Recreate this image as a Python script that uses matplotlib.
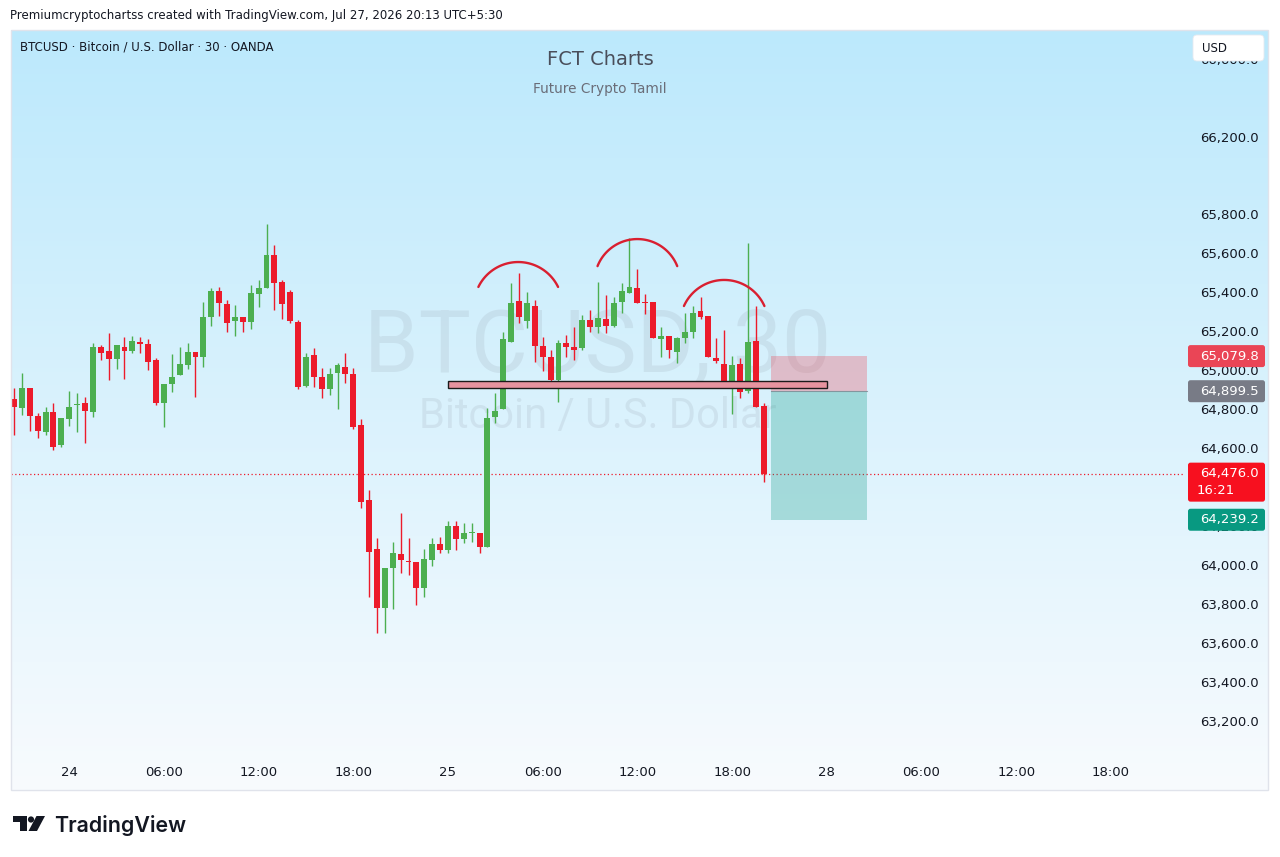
import math
import numpy as np
import matplotlib
matplotlib.use("Agg")
import matplotlib.pyplot as plt
from matplotlib.patches import Rectangle, FancyBboxPatch, Polygon, Circle

# ---------------- data ----------------
opens = [64859, 64813, 64916, 64772, 64690, 64793, 64623, 64757, 64828, 64839,
         64793, 65127, 65106, 65065, 65127, 65106, 65152, 65142, 65060, 64839,
         64936, 64983, 65034, 65101, 65075, 65281, 65414, 65347, 65260, 65281,
         65255, 65399, 65430, 65599, 65460, 65409, 65255, 64926, 65085, 64972,
         64911, 64993, 65024, 64988, 64726, 64340, 64089, 63786, 63991, 64063,
         64027, 64022, 63888, 64032, 64114, 64084, 64207, 64140, 64171, 64171,
         64099, 64767, 64808, 65152, 65363, 65260, 65337, 65132, 65075, 64957,
         65147, 65127, 65121, 65265, 65229, 65270, 65234, 65358, 65404, 65430,
         65358, 65358, 65168, 65183, 65101, 65173, 65204, 65311, 65286, 65070,
         65039, 64952, 65039, 64900, 65157, 64823]
highs = [64916, 64993, 64916, 64787, 64818, 64839, 64762, 64900, 64890, 64870,
         65147, 65137, 65199, 65137, 65178, 65183, 65178, 65168, 65070, 64936,
         65091, 65127, 65147, 65101, 65358, 65430, 65435, 65368, 65342, 65281,
         65445, 65471, 65758, 65650, 65471, 65420, 65265, 65096, 65121, 65018,
         65018, 65044, 65096, 65018, 64757, 64392, 64145, 63991, 64125, 64274,
         64145, 64022, 64089, 64145, 64150, 64233, 64233, 64222, 64222, 64171,
         64813, 64890, 65204, 65455, 65507, 65409, 65368, 65178, 65111, 65163,
         65188, 65229, 65291, 65316, 65460, 65394, 65383, 65455, 65686, 65527,
         65399, 65358, 65229, 65183, 65178, 65301, 65337, 65383, 65286, 65173,
         65214, 65080, 65070, 65661, 65337, 64839]
lows = [64674, 64777, 64695, 64659, 64674, 64597, 64613, 64721, 64690, 64633,
        64767, 65060, 64957, 65013, 64962, 65096, 65096, 65008, 64828, 64715,
        64895, 64983, 65013, 64870, 65024, 65234, 65286, 65204, 65183, 65204,
        65219, 65332, 65430, 65316, 65270, 65250, 64910, 64921, 64921, 64864,
        64880, 64808, 64941, 64705, 64299, 63842, 63657, 63657, 63781, 63965,
        63955, 63801, 63842, 64000, 64068, 64068, 64084, 64120, 64125, 64068,
        64099, 64736, 64808, 65152, 65250, 65224, 65049, 65003, 64947, 64844,
        65075, 65060, 65111, 65204, 65199, 65199, 65229, 65301, 65404, 65353,
        65296, 65173, 65075, 65070, 65044, 65147, 65173, 65270, 65075, 65044,
        64952, 64782, 64864, 64890, 64818, 64433]
closes = [64818, 64916, 64772, 64695, 64793, 64613, 64762, 64818, 64834, 64798,
          65127, 65096, 65065, 65137, 65106, 65157, 65142, 65049, 64839, 64936,
          64972, 65039, 65101, 65075, 65281, 65414, 65353, 65250, 65281, 65255,
          65404, 65430, 65599, 65455, 65347, 65260, 64921, 65075, 64972, 64911,
          64988, 65034, 64988, 64715, 64330, 64073, 63786, 63991, 64068, 64032,
          64022, 63888, 64037, 64114, 64084, 64207, 64140, 64171, 64176, 64099,
          64762, 64798, 65168, 65353, 65281, 65353, 65132, 65075, 64957, 65147,
          65127, 65111, 65265, 65229, 65275, 65234, 65353, 65414, 65435, 65353,
          65353, 65173, 65183, 65111, 65173, 65204, 65301, 65281, 65075, 65054,
          64952, 65034, 64895, 65152, 64818, 64476]

time_labels = ["24", "06:00", "12:00", "18:00", "25", "06:00", "12:00", "18:00",
               "28", "06:00", "12:00", "18:00"]
time_label_bars = [7, 19, 31, 43, 55, 67, 79, 91, 103, 115, 127, 139]

# 64,400 sits fully under the last-price label in the screenshot, so it is left out
price_ticks = [63200, 63400, 63600, 63800, 64000, 64200, 64600, 64800,
               65000, 65200, 65400, 65600, 65800, 66200, 66600]

last_price = 64476.0
countdown = "16:21"
entry_price = 64899.5
stop_price = 65079.8
target_price = 64239.2

# neckline zone drawn on the chart
zone_low, zone_high = 64916, 64952
zone_bars = (55.0, 103.0)
# three red arcs over the tops: (left bar, peak bar, right bar, end price, peak price)
arcs = [(58.8, 63.9, 68.9, 65435, 65563),
        (73.9, 79.0, 84.0, 65542, 65681),
        (84.9, 90.0, 95.1, 65337, 65471)]
# short position tool
pos_bars = (95.9, 108.1)

# ---------------- styling ----------------
W, H = 1280, 857
GREEN = "#4caf50"
RED = "#ec1b2b"
TXT = "#131722"
plt.rcParams["font.family"] = ["DejaVu Sans"]


def rect(x0, y0, x1, y1):
    return [x0 / W, 1 - y1 / H, (x1 - x0) / W, (y1 - y0) / H]


fig = plt.figure(figsize=(W / 100, H / 100), dpi=100)
fig.patch.set_facecolor("white")

# gradient background of the chart panel
bg = fig.add_axes(rect(11, 30, 1268, 790))
top = np.array([188, 233, 252]) / 255
bot = np.array([248, 251, 254]) / 255
t = np.linspace(0, 1, 256)[:, None]
grad = (top[None, :] * (1 - t) + bot[None, :] * t)[:, None, :]
bg.imshow(grad, aspect="auto", extent=[0, 1, 0, 1])
bg.set_xlim(0, 1)
bg.set_ylim(0, 1)
bg.axis("off")
bg.set_zorder(0)

# main price chart
ax = fig.add_axes(rect(11, 30, 1185, 760))
ax.set_zorder(1)
ax.patch.set_alpha(0)
ax.set_xlim(-0.38, 148.4)
ax.set_ylim(63005, 66755)
for s in ax.spines.values():
    s.set_visible(False)
ax.set_xticks([])
ax.set_yticks([])

sx = 1174 / (148.4 + 0.38)   # px per bar
sy = 730 / (66755 - 63005)   # px per USD

# watermark
ax.text(74, 65000, "BTCUSD, 30", ha="center", va="baseline", fontsize=63,
        family="Roboto", color="#9aa6b4", alpha=0.2, zorder=1)
ax.text(74, 64712, "Bitcoin / U.S. Dollar", ha="center", va="baseline", fontsize=30,
        family="Roboto", color="#9aa6b4", alpha=0.2, zorder=1)

# candles
o = np.array(opens, float)
c = np.array(closes, float)
h = np.array(highs, float)
l = np.array(lows, float)
idx = np.arange(len(o))
cols = np.where(c >= o, GREEN, RED)
ax.vlines(idx, l, h, colors=cols, lw=1.0, zorder=3)
ax.bar(idx, np.maximum(np.abs(c - o), 5), bottom=np.minimum(o, c), width=0.75,
       color=cols, lw=0, zorder=4)

# last price dotted line
ax.axhline(last_price, color=RED, lw=0.9, ls=(0, (1, 2)), zorder=2)

# neckline zone
ax.add_patch(Rectangle((zone_bars[0], zone_low), zone_bars[1] - zone_bars[0],
                       zone_high - zone_low, facecolor="#e6939f", edgecolor="#1b1b1b",
                       lw=1.0, zorder=5))

# arcs
for xl, xm, xr, y_end, y_peak in arcs:
    w = (xr - xl) / 2 * sx
    s = (y_peak - y_end) * sy
    R = (w * w + s * s) / (2 * s)
    half = math.asin(min(1.0, w / R))
    phi = np.linspace(-half, half, 80)
    cy = y_peak - R / sy
    ax.plot(xm + R * np.sin(phi) / sx, cy + R * np.cos(phi) / sy,
            color="#d91f30", lw=1.7, solid_capstyle="round", zorder=6)

# position tool
ax.add_patch(Rectangle((pos_bars[0], entry_price), pos_bars[1] - pos_bars[0],
                       stop_price - entry_price, facecolor="#f23645", alpha=0.28,
                       lw=0, zorder=2))
ax.add_patch(Rectangle((pos_bars[0], target_price), pos_bars[1] - pos_bars[0],
                       entry_price - target_price, facecolor="#089981", alpha=0.28,
                       lw=0, zorder=2))
ax.plot(pos_bars, [entry_price, entry_price], color="#787b86", lw=0.8, alpha=0.7,
        zorder=2)

# time axis labels
for b, lab in zip(time_label_bars, time_labels):
    ax.text(b, -13 / 730, lab, transform=ax.get_xaxis_transform(), ha="center",
            va="center", fontsize=9.5, color=TXT)

# price scale
pax = fig.add_axes(rect(1185, 30, 1268, 760))
pax.set_zorder(2)
pax.patch.set_alpha(0)
pax.set_xlim(0, 83)
pax.set_ylim(63005, 66755)
pax.axis("off")
for p in price_ticks:
    pax.text(74, p, f"{p:,.1f}", ha="right", va="center", fontsize=9.5, color=TXT,
             zorder=1)


def price_box(p_top, p_bot, colr):
    pax.add_patch(FancyBboxPatch((3, p_bot), 77, p_top - p_bot,
                                 boxstyle="round,pad=0,rounding_size=2.5",
                                 mutation_aspect=1 / sy, facecolor=colr, lw=0,
                                 zorder=3))


half_box = 11 / sy
for p, colr in [(stop_price, "#ea4556"), (entry_price, "#787b86"),
                (target_price, "#089981")]:
    price_box(p + half_box, p - half_box, colr)
    pax.text(74, p, f"{p:,.1f}", ha="right", va="center", fontsize=9.5,
             color="white", zorder=4)
price_box(last_price + half_box, last_price - 28 / sy, "#f7101f")
pax.text(74, last_price, f"{last_price:,.1f}", ha="right", va="center",
         fontsize=9.5, color="white", zorder=4)
pax.text(3 + 8.5, last_price - 17 / sy, countdown, ha="left", va="center",
         fontsize=9.5, color="white", zorder=4)

# overlay in pixel coordinates for header, USD box and logo
ov = fig.add_axes([0, 0, 1, 1])
ov.set_zorder(3)
ov.patch.set_alpha(0)
ov.set_xlim(0, W)
ov.set_ylim(H, 0)
ov.axis("off")
ov.add_patch(Rectangle((11, 30), 1257, 760, fill=False, edgecolor="#e0e3eb", lw=1))
ov.text(10, 15, "Premiumcryptochartss created with TradingView.com, Jul 27, 2026 20:13 UTC+5:30",
        ha="left", va="center", fontsize=8.5, color=TXT)
ov.text(20, 47, "BTCUSD \u00b7 Bitcoin / U.S. Dollar \u00b7 30 \u00b7 OANDA",
        ha="left", va="center", fontsize=8.5, color=TXT)
ov.text(600, 59, "FCT Charts", ha="center", va="center", fontsize=14, color="#4a4e5a")
ov.text(600, 89, "Future Crypto Tamil", ha="center", va="center", fontsize=9.8,
        color="#6a6d78")
ov.add_patch(FancyBboxPatch((1193, 35), 71, 26, boxstyle="round,pad=0,rounding_size=4",
                            facecolor="white", edgecolor="#e6e9ef", lw=0.6))
ov.text(1202, 48, "USD", ha="left", va="center", fontsize=8.5, color=TXT)

# TradingView logo
ov.add_patch(Polygon([(13, 816), (27, 816), (27, 831), (20, 831), (20, 822), (13, 822)],
                     closed=True, facecolor=TXT, lw=0))
ov.add_patch(Circle((31, 819.5), 3.1, facecolor=TXT, lw=0))
ov.add_patch(Polygon([(36.5, 816), (45, 816), (37, 831), (28.5, 831)], closed=True,
                     facecolor=TXT, lw=0))
ov.text(54, 832, "TradingView", ha="left", va="baseline", fontsize=15.4, family="Inter",
        fontweight="semibold", color=TXT)

fig.savefig("out.png", dpi=100)
